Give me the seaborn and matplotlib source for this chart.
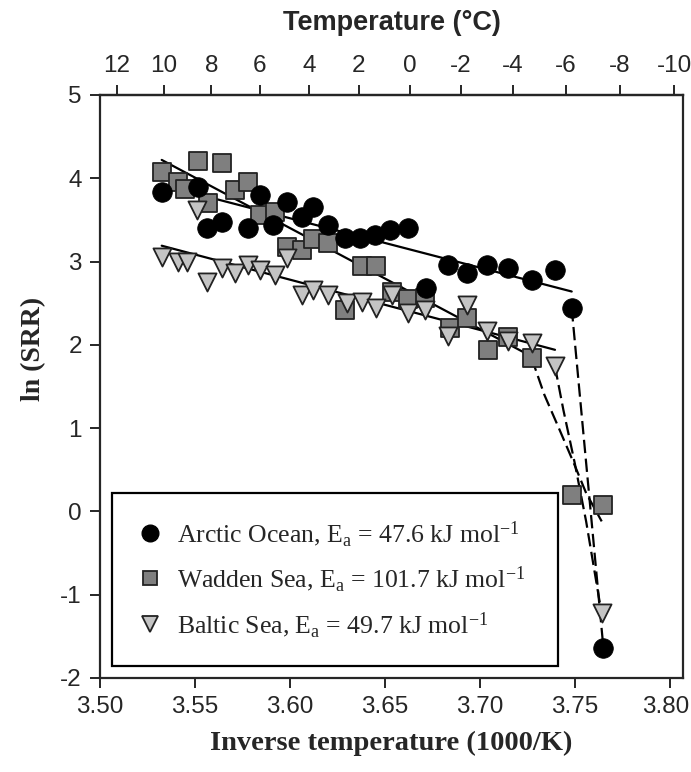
import matplotlib
matplotlib.use("Agg")
import matplotlib.pyplot as plt
import matplotlib.transforms as mtransforms
import seaborn as sns
from matplotlib.lines import Line2D

# measured ln(SRR) vs inverse temperature (1000/K)
arctic_x = [3.5325, 3.5518, 3.5562, 3.5641, 3.5781, 3.5843, 3.5913, 3.5983, 3.6062, 3.6123,
            3.6202, 3.6290, 3.6369, 3.6448, 3.6527, 3.6623, 3.6717, 3.6834, 3.6931, 3.7036,
            3.7150, 3.7273, 3.7396, 3.7484, 3.7651]
arctic_y = [3.84, 3.90, 3.40, 3.48, 3.40, 3.80, 3.44, 3.72, 3.54, 3.66,
            3.44, 3.28, 3.28, 3.32, 3.38, 3.40, 2.68, 2.96, 2.86, 2.96,
            2.92, 2.78, 2.90, 2.44, -1.64]

wadden_x = [3.5325, 3.5412, 3.5448, 3.5518, 3.5570, 3.5641, 3.5711, 3.5781, 3.5843, 3.5922,
            3.5983, 3.6062, 3.6123, 3.6202, 3.6290, 3.6378, 3.6453, 3.6536, 3.6623, 3.6711,
            3.6843, 3.6931, 3.7045, 3.7150, 3.7273, 3.7484, 3.7651]
wadden_y = [4.08, 3.96, 3.87, 4.21, 3.70, 4.18, 3.86, 3.96, 3.56, 3.60,
            3.18, 3.14, 3.27, 3.22, 2.42, 2.95, 2.95, 2.64, 2.55, 2.56,
            2.20, 2.32, 1.94, 2.09, 1.84, 0.20, 0.08]

baltic_x = [3.5325, 3.5412, 3.5456, 3.5509, 3.5562, 3.5641, 3.5711, 3.5781, 3.5843, 3.5922,
            3.5983, 3.6062, 3.6123, 3.6202, 3.6299, 3.6378, 3.6453, 3.6536, 3.6623, 3.6711,
            3.6834, 3.6931, 3.7036, 3.7150, 3.7273, 3.7396, 3.7641]
baltic_y = [3.06, 3.00, 3.00, 3.62, 2.76, 2.92, 2.86, 2.96, 2.90, 2.84,
            3.04, 2.60, 2.66, 2.60, 2.50, 2.52, 2.44, 2.60, 2.38, 2.42,
            2.10, 2.48, 2.16, 2.04, 2.02, 1.74, -1.22]

# Arrhenius fits (solid) and the drop below the break (dashed)
arctic_fit_x, arctic_fit_y = [3.5325, 3.7484], [3.92, 2.64]
wadden_fit_x, wadden_fit_y = [3.5325, 3.7273], [4.22, 1.86]
baltic_fit_x, baltic_fit_y = [3.5325, 3.7396], [3.19, 1.94]

arctic_dash_x, arctic_dash_y = [3.7484, 3.7651], [2.44, -1.64]
wadden_dash_x = [3.7273, 3.7340, 3.7420, 3.7495, 3.7560, 3.7642]
wadden_dash_y = [1.84, 1.40, 0.98, 0.58, 0.22, -0.12]
baltic_dash_x = [3.7396, 3.7440, 3.7500, 3.7560, 3.7641]
baltic_dash_y = [1.74, 1.22, 0.58, -0.12, -1.22]

labels = [r"Arctic Ocean, E$_\mathrm{a}$ = 47.6 kJ mol$^\mathrm{-1}$",
          r"Wadden Sea, E$_\mathrm{a}$ = 101.7 kJ mol$^\mathrm{-1}$",
          r"Baltic Sea, E$_\mathrm{a}$ = 49.7 kJ mol$^\mathrm{-1}$"]
temp_ticks = [12, 10, 8, 6, 4, 2, 0, -2, -4, -6, -8, -10]

sns.set_style("ticks")
plt.rcParams["font.family"] = ["Liberation Sans", "DejaVu Sans"]
plt.rcParams["axes.unicode_minus"] = False
plt.rcParams["mathtext.fontset"] = "custom"
plt.rcParams["mathtext.rm"] = "Liberation Serif"
plt.rcParams["mathtext.it"] = "Liberation Serif:italic"

fig = plt.figure(figsize=(6.91, 7.72), dpi=100)
ax = fig.add_axes([0.1447, 0.1218, 0.8437, 0.7552])

lw = 1.6
dash = (6, 2.5)
for fx, fy in [(arctic_fit_x, arctic_fit_y), (wadden_fit_x, wadden_fit_y), (baltic_fit_x, baltic_fit_y)]:
    sns.lineplot(x=fx, y=fy, color="black", lw=lw, sort=False, estimator=None, ax=ax, zorder=2)
for dx, dy in [(arctic_dash_x, arctic_dash_y), (wadden_dash_x, wadden_dash_y), (baltic_dash_x, baltic_dash_y)]:
    sns.lineplot(x=dx, y=dy, color="black", lw=lw, sort=False, estimator=None, ax=ax, zorder=2)
    ax.lines[-1].set_dashes(dash)

sns.scatterplot(x=wadden_x, y=wadden_y, marker="s", s=150, color="#7f7f7f",
                edgecolor="#222222", linewidth=1.3, ax=ax, zorder=3)
sns.scatterplot(x=baltic_x, y=baltic_y, marker="v", s=170, color="#c4c4c4",
                edgecolor="#222222", linewidth=1.3, ax=ax, zorder=4)
sns.scatterplot(x=arctic_x, y=arctic_y, marker="o", s=200, color="black",
                edgecolor="black", linewidth=0.5, ax=ax, zorder=5)

ax.set_xlim(3.50, 3.807)
ax.set_ylim(-2, 5)
ax.set_xticks([3.50, 3.55, 3.60, 3.65, 3.70, 3.75, 3.80])
ax.set_xticklabels(["3.50", "3.55", "3.60", "3.65", "3.70", "3.75", "3.80"])
ax.set_yticks(range(-2, 6))
ax.tick_params(axis="both", direction="out", length=7, width=1.4, labelsize=17.5, pad=6,
               right=False, top=False)
# keep the last bottom label inside the canvas
last = ax.get_xticklabels()[-1]
last.set_transform(last.get_transform() + mtransforms.ScaledTranslation(-3 / 72, 0, fig.dpi_scale_trans))
for sp in ax.spines.values():
    sp.set_linewidth(1.6)
    sp.set_visible(True)

ax.set_xlabel("Inverse temperature (1000/K)", family="Liberation Serif",
              fontweight="bold", fontsize=20.5, labelpad=9)
ax.set_ylabel("ln (SRR)", family="Liberation Serif", fontweight="bold", fontsize=20)
ax.yaxis.set_label_coords(-0.092, 0.565)

top = ax.secondary_xaxis("top", functions=(lambda v: 1000.0 / v - 273.0,
                                           lambda c: 1000.0 / (c + 273.0)))
top.set_xticks(temp_ticks)
top.set_xticklabels([str(t) for t in temp_ticks])
top.tick_params(direction="out", length=7, width=1.4, labelsize=17.5, pad=6)
top.spines["top"].set_linewidth(1.6)
top.set_xlabel("Temperature (°C)", fontweight="bold", fontsize=19.5, labelpad=18)

handles = [
    Line2D([], [], ls="none", marker="o", ms=12, mfc="black", mec="black"),
    Line2D([], [], ls="none", marker="s", ms=10, mfc="#7f7f7f", mec="#222222", mew=1.3),
    Line2D([], [], ls="none", marker="v", ms=11, mfc="#c4c4c4", mec="#222222", mew=1.3),
]
leg = ax.legend(handles, labels, loc="upper left", bbox_to_anchor=(0.02, 0.022, 0.765, 0.295),
                mode="expand", frameon=True, fancybox=False, edgecolor="black",
                prop={"family": "Liberation Serif", "size": 18.5}, borderpad=1.0,
                labelspacing=0.62, handlelength=1.0, handletextpad=0.55, borderaxespad=0)
leg.get_frame().set_linewidth(1.6)
leg.get_frame().set_alpha(1)

fig.savefig("out.png", dpi=100)
